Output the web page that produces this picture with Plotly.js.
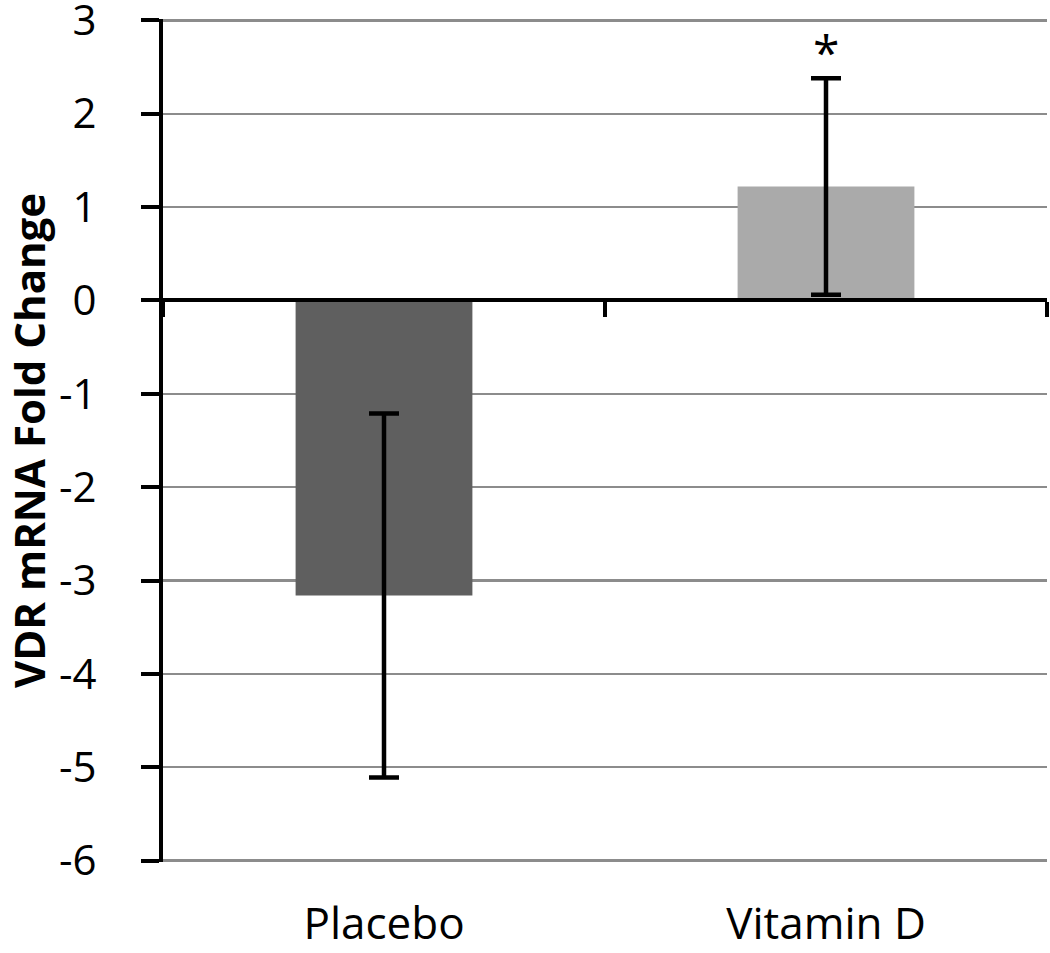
<!DOCTYPE html>
<html>
<head>
<meta charset="utf-8">
<script src="https://cdn.plot.ly/plotly-3.0.1.min.js"></script>
<style>html,body{margin:0;padding:0;background:#fff;}#chart{width:1050px;height:953px;}</style>
</head>
<body>
<div id="chart"></div>
<script>
const categories = ["Placebo", "Vitamin D"];
const foldChange = [-3.16, 1.22];
const errorSD = [1.95, 1.16];
const barColors = ["#5f5f5f", "#aaaaaa"];
const yTickVals = [3, 2, 1, 0, -1, -2, -3, -4, -5, -6];
const yTickText = ["3", "2", "1", "0", "-1", "-2", "-3", "-4", "-5", "-6"];
const yTitle = "VDR mRNA Fold Change";
const sigMark = "*";
const sigIndex = 1;

const FONT = "Open Sans, Lato, sans-serif";
const yMin = -6.015, yMax = 3.015;

const trace = {
  type: "bar",
  x: categories,
  y: foldChange,
  marker: {color: barColors, line: {width: 0}},
  error_y: {type: "data", array: errorSD, visible: true, color: "#000", thickness: 4.5, width: 15},
  hoverinfo: "x+y",
  showlegend: false
};

// invisible trace to activate the zero-line axis (xaxis2)
const axisTrace = {
  type: "scatter", x: categories, y: [0, 0], xaxis: "x2", yaxis: "y",
  mode: "markers", marker: {opacity: 0}, hoverinfo: "skip", showlegend: false
};

const layout = {
  width: 1050, height: 953,
  margin: {l: 163, r: 3, t: 19, b: 91},
  paper_bgcolor: "#fff", plot_bgcolor: "#fff",
  font: {family: FONT, color: "#000"},
  bargap: 0.6,
  xaxis: {
    type: "category",
    showline: false, ticks: "", showgrid: false, zeroline: false,
    tickfont: {size: 44, family: FONT, color: "#000"},
    ticklabelstandoff: 32
  },
  xaxis2: {
    type: "category", overlaying: "x", matches: "x", anchor: "free",
    position: (0 - yMin) / (yMax - yMin),
    showline: true, linecolor: "#000", linewidth: 4,
    ticks: "outside", tickson: "boundaries", ticklen: 15, tickwidth: 4, tickcolor: "#000",
    showticklabels: false, showgrid: false, zeroline: false
  },
  yaxis: {
    range: [yMin, yMax],
    tickmode: "array", tickvals: yTickVals, ticktext: yTickText,
    showline: true, linecolor: "#000", linewidth: 4,
    ticks: "outside", ticklen: 18, tickwidth: 4, tickcolor: "#000",
    showgrid: true, gridcolor: "#8c8c8c", gridwidth: 2.5,
    zeroline: false,
    tickfont: {size: 42, family: FONT, color: "#000"},
    ticklabelstandoff: 36,
    ticklabeloverflow: "allow",
    title: {text: yTitle, font: {size: 42, family: FONT, color: "#000", weight: "bold"}, standoff: 50}
  },
  annotations: [{
    x: categories[sigIndex], y: foldChange[sigIndex] + errorSD[sigIndex],
    xref: "x", yref: "y", text: sigMark, showarrow: false,
    yanchor: "bottom", yshift: -8,
    font: {size: 48, family: FONT, color: "#000"}
  }]
};

Plotly.newPlot("chart", [trace, axisTrace], layout, {displayModeBar: false, staticPlot: true});
</script>
</body>
</html>
